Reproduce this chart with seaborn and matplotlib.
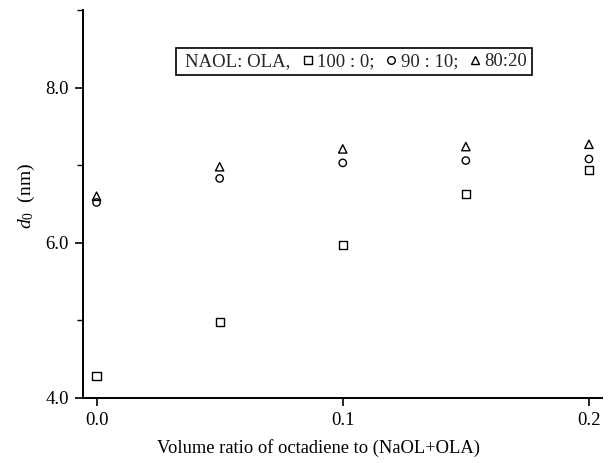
import matplotlib
matplotlib.use("Agg")
import matplotlib.pyplot as plt
from matplotlib.lines import Line2D
from matplotlib.ticker import MultipleLocator, FormatStrFormatter
import seaborn as sns
import pandas as pd

x_ratio = [0.0, 0.05, 0.10, 0.15, 0.20]
d_100_0 = [4.28, 4.98, 5.97, 6.63, 6.94]
d_90_10 = [6.52, 6.83, 7.03, 7.06, 7.08]
d_80_20 = [6.60, 6.98, 7.21, 7.24, 7.27]
series_labels = ["100 : 0;", "90 : 10;", "80:20"]
legend_title = "NAOL: OLA,"

sns.set_theme(style="ticks")
plt.rcParams["font.family"] = ["Liberation Serif", "DejaVu Serif"]
plt.rcParams["mathtext.fontset"] = "custom"
plt.rcParams["mathtext.it"] = "Liberation Serif:italic"
plt.rcParams["mathtext.rm"] = "Liberation Serif"

df = pd.DataFrame({
    "x": x_ratio * 3,
    "d": d_100_0 + d_90_10 + d_80_20,
    "series": [series_labels[0]] * 5 + [series_labels[1]] * 5 + [series_labels[2]] * 5,
})

fig = plt.figure(figsize=(6.12, 4.63), dpi=100)
ax = fig.add_axes([83 / 612, 1 - 398 / 463, (602 - 83) / 612, (398 - 10) / 463])

markers = {series_labels[0]: "s", series_labels[1]: "o", series_labels[2]: "^"}
sizes = {series_labels[0]: 34, series_labels[1]: 28, series_labels[2]: 36}
for lab in series_labels:
    sub = df[df["series"] == lab]
    sns.scatterplot(data=sub, x="x", y="d", marker=markers[lab], s=sizes[lab],
                    color="black", facecolor="none", edgecolor="black",
                    linewidth=1.0, ax=ax, legend=False)

ax.set_xlim(-0.0055, 0.2053)
ax.set_ylim(4.0, 9.0)
ax.xaxis.set_major_locator(MultipleLocator(0.1))
ax.xaxis.set_major_formatter(FormatStrFormatter("%.1f"))
ax.yaxis.set_major_locator(MultipleLocator(2.0))
ax.yaxis.set_minor_locator(MultipleLocator(1.0))
ax.yaxis.set_major_formatter(FormatStrFormatter("%.1f"))

for s in ["top", "right"]:
    ax.spines[s].set_visible(False)
for s in ["left", "bottom"]:
    ax.spines[s].set_color("black")
    ax.spines[s].set_linewidth(1.4)

ax.tick_params(axis="both", which="major", direction="out", length=6, width=1.2,
               colors="black", labelsize=13.5, pad=4)
ax.tick_params(axis="y", which="minor", direction="out", length=4, width=1.0, colors="black")

ax.set_xlabel("Volume ratio of octadiene to (NaOL+OLA)", fontsize=13.3, color="black")
ax.xaxis.set_label_coords(0.453, -0.105)
ax.set_ylabel(r"$d_0$  (nm)", fontsize=14, color="black")
ax.yaxis.set_label_coords(-0.088, 0.52)

handles = [Line2D([], [], linestyle="none", marker=None)]
labels = [legend_title]
for lab in series_labels:
    handles.append(Line2D([], [], linestyle="none", marker=markers[lab], markersize=5.5,
                          markerfacecolor="none", markeredgecolor="black", markeredgewidth=1.0))
    labels.append(lab)
leg = ax.legend(handles, labels, ncol=4, loc="center", bbox_to_anchor=(0.522, 0.867),
                frameon=True, fancybox=False, edgecolor="black", framealpha=1.0,
                fontsize=13.5, handlelength=0.5, handletextpad=0.25, columnspacing=0.65,
                borderpad=0.25, borderaxespad=0)
leg.get_frame().set_linewidth(1.2)
# first entry is plain text: give its handle no width
try:
    first_item = leg._legend_handle_box.get_children()[0].get_children()[0]
    first_item.get_children()[0].width = 0
except Exception:
    pass

fig.savefig("out.png", dpi=100, facecolor="white")
